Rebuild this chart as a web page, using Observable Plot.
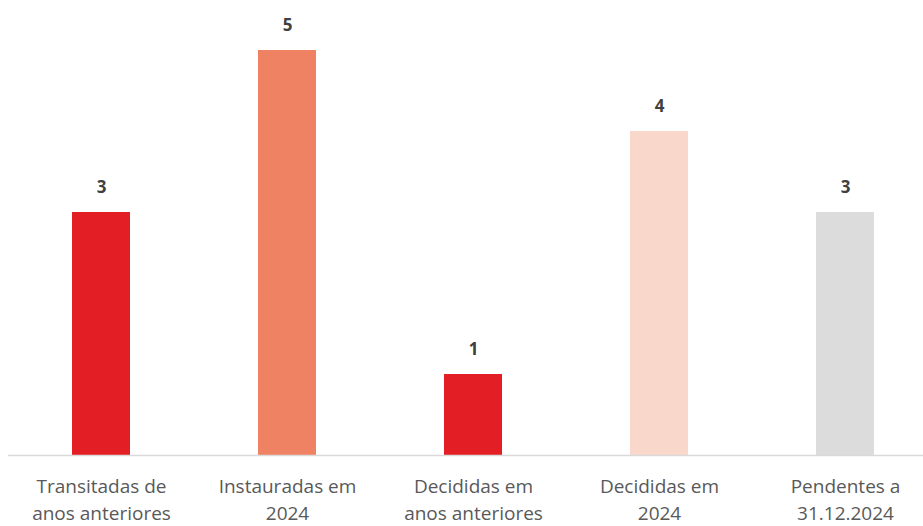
<!DOCTYPE html>
<html>
<head>
<meta charset="utf-8">
<script src="https://cdn.jsdelivr.net/npm/d3@7"></script>
<script src="https://cdn.jsdelivr.net/npm/@observablehq/plot@0.6"></script>
<style>
  html, body { margin: 0; padding: 0; background: #fff; }
  svg { display: block; }
</style>
</head>
<body>
<div id="chart"></div>
<script>
const categories = ["Transitadas de\nanos anteriores", "Instauradas em\n2024", "Decididas em\nanos anteriores", "Decididas em\n2024", "Pendentes a\n31.12.2024"];
const values = [3, 5, 1, 4, 3];
const colors = ["#E31E24", "#EF8263", "#E31E24", "#F9D7CA", "#DCDCDC"];

const data = categories.map((c, i) => ({cat: c, value: values[i], color: colors[i]}));

const chart = Plot.plot({
  width: 923,
  height: 526,
  marginLeft: 8,
  marginRight: 0,
  marginTop: 50,
  marginBottom: 71,
  style: {fontFamily: "'Open Sans', sans-serif", background: "#fff", overflow: "hidden"},
  x: {domain: categories, range: [8, 938], paddingInner: 0.688, paddingOuter: 0.344, axis: null},
  y: {domain: [0, 5], axis: null},
  marks: [
    Plot.barY(data, {x: "cat", y: "value", fill: "color"}),
    Plot.ruleY([0], {stroke: "#D9D9D9", strokeWidth: 1.5}),
    Plot.text(data, {x: "cat", y: "value", text: d => String(d.value), dy: -25, fontSize: 17, fontWeight: "bold", fill: "#404040"}),
    Plot.text(data, {x: "cat", y: 0, text: "cat", lineAnchor: "middle", dy: 42, fontSize: 19, lineHeight: 1.45, fill: "#595959"})
  ]
});
document.getElementById("chart").appendChild(chart);
</script>
</body>
</html>
